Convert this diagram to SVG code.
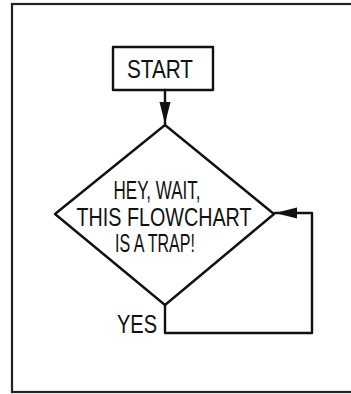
<svg xmlns="http://www.w3.org/2000/svg" width="351" height="394" viewBox="0 0 351 394">
<style>
.ln{fill:none;stroke:#111;stroke-width:2.4;stroke-linejoin:round;stroke-linecap:round}
.tx{font-family:"Liberation Sans",Arial,sans-serif;font-size:25px;fill:#111;text-anchor:middle}
</style>
<defs>
<marker id="ah2" viewBox="0 0 22 12" refX="22" refY="6" markerWidth="22" markerHeight="12" markerUnits="userSpaceOnUse" orient="auto">
<path d="M0,0.5 L22,6 L0,11.5 Z" fill="#111"/>
</marker>
</defs>
<rect x="0" y="0" width="351" height="394" fill="#fff"/>
<rect x="12" y="4" width="345" height="388" fill="none" stroke="#222" stroke-width="2.2"/>
<g id="start">
<rect class="ln" x="113" y="47" width="100" height="43"/>
<text class="tx" x="160" y="78" textLength="66" lengthAdjust="spacingAndGlyphs">START</text>
</g>
<g id="trap">
<path class="ln" d="M165,125 L274,214 L165,305 L55,214 Z"/>
<text class="tx" x="157" y="199" textLength="87" lengthAdjust="spacingAndGlyphs">HEY, WAIT,</text>
<text class="tx" x="164" y="226" textLength="175" lengthAdjust="spacingAndGlyphs">THIS FLOWCHART</text>
<text class="tx" x="155" y="252" textLength="80" lengthAdjust="spacingAndGlyphs">IS A TRAP!</text>
</g>
<g id="connectors">
<path class="ln" d="M165,90 L165,124" marker-end="url(#ah2)"/>
<path class="ln" d="M165,305 L165,333 L312,333 L312,213 L275,213" marker-end="url(#ah2)"/>
<text class="tx" x="137" y="333" textLength="40" lengthAdjust="spacingAndGlyphs">YES</text>
</g>
</svg>
